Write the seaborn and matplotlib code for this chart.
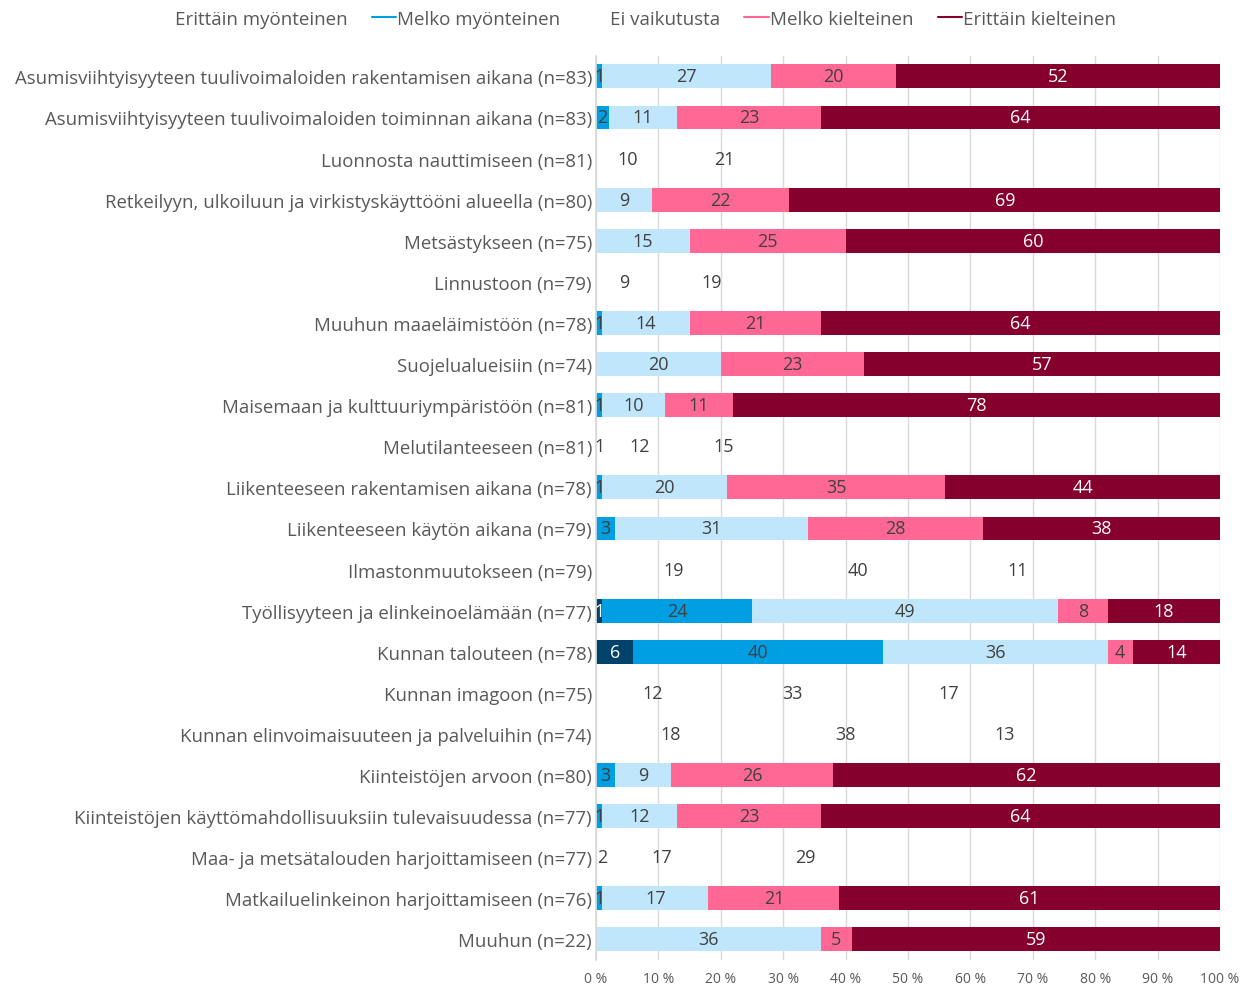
import matplotlib
matplotlib.use("Agg")
import pandas as pd
import seaborn as sns
import matplotlib.pyplot as plt
from matplotlib.lines import Line2D

# Data (prosentit, luettu kuvasta)
kohteet = [
    "Asumisviihtyisyyteen tuulivoimaloiden rakentamisen aikana (n=83)",
    "Asumisviihtyisyyteen tuulivoimaloiden toiminnan aikana (n=83)",
    "Luonnosta nauttimiseen (n=81)",
    "Retkeilyyn, ulkoiluun ja virkistyskäyttööni alueella (n=80)",
    "Metsästykseen (n=75)",
    "Linnustoon (n=79)",
    "Muuhun maaeläimistöön (n=78)",
    "Suojelualueisiin (n=74)",
    "Maisemaan ja kulttuuriympäristöön (n=81)",
    "Melutilanteeseen (n=81)",
    "Liikenteeseen rakentamisen aikana (n=78)",
    "Liikenteeseen käytön aikana (n=79)",
    "Ilmastonmuutokseen (n=79)",
    "Työllisyyteen ja elinkeinoelämään (n=77)",
    "Kunnan talouteen (n=78)",
    "Kunnan imagoon (n=75)",
    "Kunnan elinvoimaisuuteen ja palveluihin (n=74)",
    "Kiinteistöjen arvoon (n=80)",
    "Kiinteistöjen käyttömahdollisuuksiin tulevaisuudessa (n=77)",
    "Maa- ja metsätalouden harjoittamiseen (n=77)",
    "Matkailuelinkeinon harjoittamiseen (n=76)",
    "Muuhun (n=22)",
]
erittain_myonteinen = [0, 0, 0, 0, 0, 0, 0, 0, 0, 0, 0, 0, 3, 1, 6, 3, 3, 0, 0, 0, 0, 0]
melko_myonteinen = [1, 2, 0, 0, 0, 0, 1, 0, 1, 1, 1, 3, 19, 24, 40, 12, 18, 3, 1, 2, 1, 0]
ei_vaikutusta = [27, 11, 10, 9, 15, 9, 14, 20, 10, 12, 20, 31, 40, 49, 36, 33, 38, 9, 12, 17, 17, 36]
melko_kielteinen = [20, 23, 21, 22, 25, 19, 21, 23, 11, 15, 35, 28, 11, 8, 4, 17, 13, 26, 23, 29, 21, 5]
erittain_kielteinen = [52, 64, 69, 69, 60, 72, 64, 57, 78, 72, 44, 38, 27, 18, 14, 35, 28, 62, 64, 52, 61, 59]
sarjat = ["Erittäin myönteinen", "Melko myönteinen", "Ei vaikutusta",
          "Melko kielteinen", "Erittäin kielteinen"]
x_tikit = [0, 10, 20, 30, 40, 50, 60, 70, 80, 90, 100]

# Rivit, joiden palkit puuttuvat alkuperäisestä kuvasta (vain arvot näkyvät)
ilman_palkkia = [
    "Luonnosta nauttimiseen (n=81)",
    "Linnustoon (n=79)",
    "Melutilanteeseen (n=81)",
    "Ilmastonmuutokseen (n=79)",
    "Kunnan imagoon (n=75)",
    "Kunnan elinvoimaisuuteen ja palveluihin (n=74)",
    "Maa- ja metsätalouden harjoittamiseen (n=77)",
]

varit = ["#00426A", "#009FE3", "#BFE6FB", "#FF6895", "#85002D"]
tekstivarit = ["white", "#404040", "#404040", "#404040", "white"]
harmaa = "#595959"

df = pd.DataFrame({
    "kohde": kohteet,
    sarjat[0]: erittain_myonteinen,
    sarjat[1]: melko_myonteinen,
    sarjat[2]: ei_vaikutusta,
    sarjat[3]: melko_kielteinen,
    sarjat[4]: erittain_kielteinen,
})
arvot = df[sarjat].to_numpy()
kumul = arvot.cumsum(axis=1)

sns.set_theme(style="white")
plt.rcParams["font.family"] = ["Open Sans", "DejaVu Sans"]

fig = plt.figure(figsize=(12.53, 9.87), dpi=100)
ax = fig.add_axes([0.4757, 0.0264, 0.498, 0.916])

# pinotut palkit: kumulatiiviset summat päällekkäin, suurin ensin
for i in reversed(range(len(sarjat))):
    sns.barplot(x=kumul[:, i], y=df["kohde"], orient="h", color=varit[i],
                width=0.58, saturation=1, linewidth=0, ax=ax, zorder=2)

for cont in ax.containers:
    for patch, nimi in zip(cont.patches, kohteet):
        if nimi in ilman_palkkia:
            patch.set_visible(False)

# arvotekstit
for r in range(len(kohteet)):
    for s in range(len(sarjat)):
        v = arvot[r, s]
        if v > 0:
            ax.text(kumul[r, s] - v / 2, r, str(v), ha="center", va="center",
                    color=tekstivarit[s], fontsize=13, zorder=3)

ax.set_xlim(0, 100)
ax.set_xticks(x_tikit)
ax.set_xticklabels([f"{t} %" for t in x_tikit])
ax.set_axisbelow(True)
ax.xaxis.grid(True, color="#D9D9D9", linewidth=1)
ax.yaxis.grid(False)
ax.set_xlabel("")
ax.set_ylabel("")
ax.tick_params(axis="x", length=0, pad=8, labelsize=10, labelcolor=harmaa)
ax.tick_params(axis="y", length=0, pad=3, labelsize=13.4, labelcolor=harmaa)
for sp in ["top", "right", "bottom"]:
    ax.spines[sp].set_visible(False)
ax.spines["left"].set_color("#D9D9D9")

# selite
kahvat = [
    Line2D([], [], color="none"),
    Line2D([], [], color=varit[1], lw=1.5),
    Line2D([], [], color="none"),
    Line2D([], [], color=varit[3], lw=1.5),
    Line2D([], [], color=varit[4], lw=1.5),
]
fig.legend(kahvat, sarjat, loc="upper center", bbox_to_anchor=(0.505, 1.006),
           ncol=5, frameon=False, handlelength=1.3, handletextpad=0.05,
           columnspacing=1.3, fontsize=13.5, labelcolor=harmaa)

fig.savefig("out.png", dpi=100)
